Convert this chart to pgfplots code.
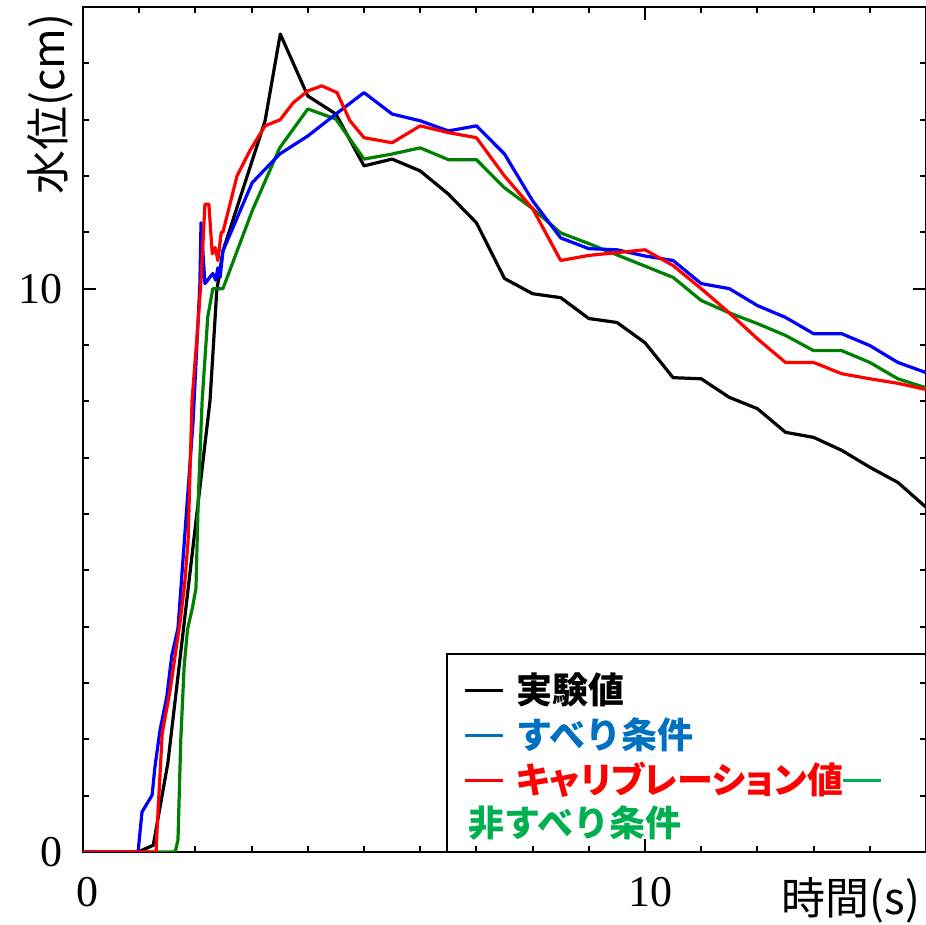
\documentclass[border=0pt]{standalone}
\usepackage{pgfplots}
\pgfplotsset{compat=1.18}
\usepackage{fontspec}
\setmainfont{Liberation Serif}
\newfontfamily\jp{Noto Sans CJK JP}
\newfontfamily\jpp{Noto Sans CJK JP}[RawFeature=+palt]
\definecolor{lgblue}{RGB}{0,112,192}
\definecolor{lggreen}{RGB}{0,176,80}
\definecolor{lnblue}{RGB}{0,0,255}
\definecolor{lnred}{RGB}{255,0,0}
\definecolor{lngreen}{RGB}{0,128,0}
\begin{document}
\begin{tikzpicture}
\begin{axis}[
  at={(0,0)}, anchor=south west,
  scale only axis, width=421.5pt, height=422.5pt,
  xmin=0, xmax=15, ymin=0, ymax=15,
  xtick={0,10}, ytick={0,10},
  minor xtick={1,...,14}, minor ytick={1,...,14},
  tick align=inside, major tick length=6.5pt, minor tick length=3pt,
  every tick/.style={black, line width=1pt},
  axis line style={line width=1.3pt},
  tick label style={font=\fontsize{22}{22}\selectfont},
  /pgf/number format/assume math mode=true,
  xticklabel style={yshift=-9pt, xshift=2.5pt},
  yticklabel style={xshift=-6.5pt},
  xlabel={\jp 時間(s)}, ylabel={\jp 水位(cm)},
  xlabel style={at={(axis description cs:0.911,-0.057)}, anchor=center, font=\fontsize{22}{22}\selectfont},
  ylabel style={at={(axis description cs:-0.039,0.885)}, anchor=center, font=\fontsize{22}{22}\selectfont},
  every axis plot/.append style={line width=1.6pt, line join=round},
]
% 実験値
\addplot[black] coordinates {
(0,0) (0.98,0) (1.25,0.12) (1.51,1.58) (2.26,8.01) (2.38,9.96) (2.49,10.67) (3.24,12.98) (3.51,14.52)
(4.0,13.42) (4.5,13.10) (5.0,12.18) (5.5,12.30) (6.0,12.09) (6.5,11.68) (7.0,11.17) (7.5,10.18)
(8.0,9.91) (8.5,9.84) (9.0,9.47) (9.5,9.40) (10.0,9.04) (10.5,8.42) (11.0,8.40) (11.5,8.07)
(12.0,7.87) (12.5,7.45) (13.0,7.36) (13.5,7.13) (14.0,6.83) (14.5,6.56) (15.0,6.12)};
% 非すべり条件
\addplot[lngreen] coordinates {
(0,0) (1.64,0) (1.69,0.21) (1.74,2.0) (1.80,3.3) (1.86,3.95) (1.95,4.35) (2.01,4.68) (2.05,6.24)
(2.12,8.01) (2.22,9.5) (2.31,10.0) (2.49,10.0) (3.01,11.38) (3.5,12.5) (4.0,13.19) (4.5,13.01)
(5.0,12.30) (5.5,12.39) (6.0,12.5) (6.5,12.29) (7.0,12.29) (7.5,11.79) (8.0,11.42) (8.5,10.99)
(9.0,10.8) (9.5,10.6) (10.0,10.4) (10.5,10.2) (11.0,9.79) (11.5,9.57) (12.0,9.38) (12.5,9.17)
(13.0,8.90) (13.5,8.90) (14.0,8.69) (14.5,8.40) (15,8.24)};
% すべり条件
\addplot[lnblue] coordinates {
(0,0) (0.98,0) (1.05,0.71) (1.23,1.01) (1.28,1.51) (1.37,2.16) (1.49,2.75) (1.58,3.49) (1.69,3.97)
(1.96,7.66) (2.08,10.09) (2.10,11.17) (2.17,10.09) (2.31,10.27) (2.36,10.15) (2.40,10.37) (2.44,10.2)
(2.49,10.67) (3.01,11.88) (3.5,12.39) (4.0,12.71) (4.5,13.10) (5.0,13.48) (5.5,13.10) (6.0,12.98)
(6.5,12.80) (7.0,12.89) (7.5,12.39) (8.0,11.56) (8.5,10.90) (9.0,10.71) (9.5,10.69) (10.0,10.58)
(10.5,10.50) (11.0,10.09) (11.5,10.0) (12.0,9.70) (12.5,9.49) (13.0,9.20) (13.5,9.20) (14.0,8.99)
(14.5,8.69) (15,8.51)};
% キャリブレーション値
\addplot[lnred] coordinates {
(0,0) (1.30,0) (1.32,0.44) (1.41,2.11) (1.55,2.87) (1.73,4.11) (1.81,4.77) (1.87,5.53) (1.94,8.01)
(2.05,9.43) (2.10,10.14) (2.17,11.5) (2.24,11.5) (2.30,10.62) (2.35,10.73) (2.40,10.5) (2.46,11.0)
(2.49,11.0) (2.74,12.0) (2.97,12.45) (3.24,12.89) (3.51,13.0) (3.74,13.3) (4.0,13.51) (4.25,13.6)
(4.52,13.48) (4.75,12.98) (5.0,12.68) (5.5,12.59) (6.0,12.89) (6.5,12.77) (7.0,12.68) (7.5,12.0)
(8.0,11.42) (8.5,10.5) (9.0,10.59) (9.5,10.64) (10.0,10.69) (10.5,10.41) (11.0,10.0) (11.5,9.57)
(12.0,9.11) (12.5,8.69) (13.0,8.69) (13.5,8.49) (14.0,8.40) (14.5,8.32) (15,8.21)};
\end{axis}
% legend box
\draw[line width=0.8pt] (182pt,0pt) -- (182pt,99pt) -- (440pt,99pt);
\begin{scope}[every node/.style={anchor=west, inner sep=0pt, font=\jp\bfseries\fontsize{18}{18}\selectfont}]
\node at (191pt,81pt) {\textcolor{black}{\rule[6pt]{19pt}{1.5pt}}\hspace{6.5pt}\textcolor{black}{実験値}};
\node at (191pt,58.5pt) {\textcolor{lgblue}{\rule[6pt]{19pt}{1.5pt}}\hspace{6.5pt}\textcolor{lgblue}{すべり条件}};
\node at (191pt,36pt) {\textcolor{lnred}{\rule[6pt]{19pt}{1.5pt}}\hspace{6.5pt}\textcolor{lnred}{\jpp\bfseries キャリブレーション値}\textcolor{lggreen}{\rule[6pt]{19pt}{1.5pt}}};
\node at (192.5pt,14.5pt) {\textcolor{lggreen}{非すべり条件}};
\end{scope}
\pgfresetboundingbox
\path[use as bounding box] (-41.5pt,-36.5pt) rectangle (421.5pt,426pt);
\end{tikzpicture}
\end{document}
